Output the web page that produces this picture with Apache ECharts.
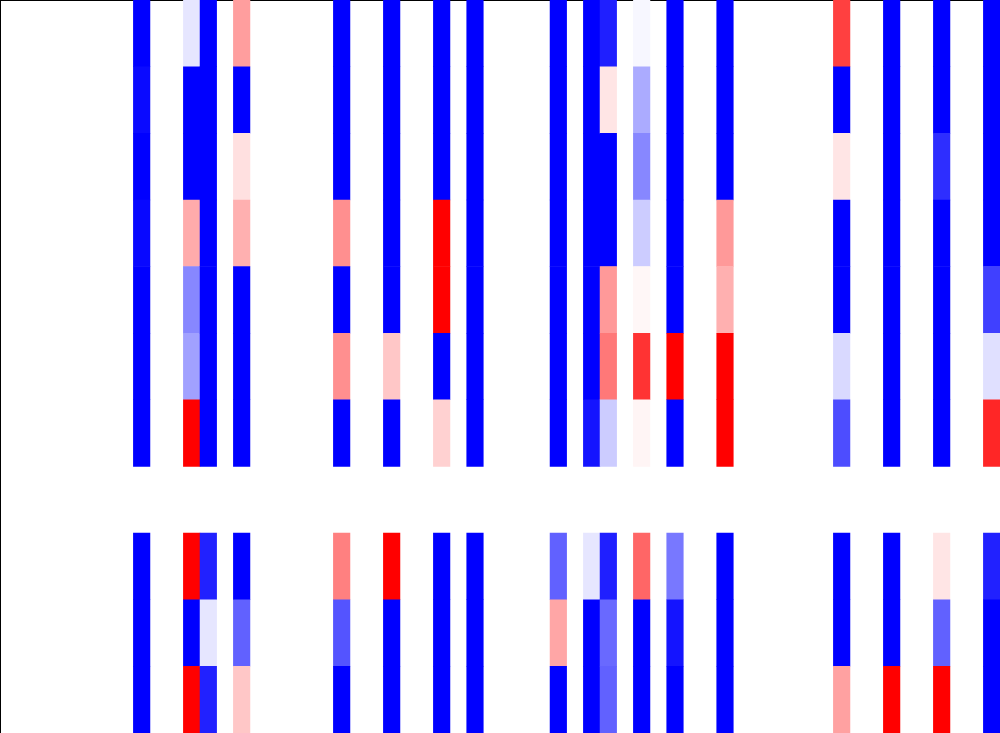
<!DOCTYPE html>
<html>
<head>
<meta charset="utf-8">
<script src="https://cdn.jsdelivr.net/npm/echarts@6/dist/echarts.min.js"></script>
<style>
html,body{margin:0;padding:0;background:#ffffff;}
#chart{width:1000px;height:733px;}
</style>
</head>
<body>
<div id="chart"></div>
<script>
// 60 columns x 11 rows; null = no value (blank)
const nCols = 60;
const nRows = 11;
// values per populated column, rows top -> bottom (row 7 is empty)
const c08 = [-1, -0.96, -1, -0.97, -1, -1, -1, null, -1, -1, -1];
const c11 = [-0.1, -1, -1, 0.33, -0.47, -0.37, 1, null, 1, -1, 1];
const c12 = [-1, -1, -1, -1, -1, -1, -1, null, -0.87, -0.1, -0.87];
const c14 = [0.38, -1, 0.12, 0.31, -1, -1, -1, null, -1, -0.62, 0.22];
const c20 = [-1, -1, -1, 0.44, -1, 0.44, -1, null, 0.5, -0.67, -1];
const c23 = [-1, -1, -1, -1, -1, 0.22, -1, null, 1, -1, -1];
const c26 = [-1, -1, -1, 1, 1, -1, 0.18, null, -1, -1, -1];
const c28 = [-1, -1, -1, -1, -1, -1, -1, null, -1, -1, -1];
const c33 = [-1, -1, -1, -1, -1, -1, -1, null, -0.62, 0.35, -1];
const c35 = [-1, -1, -1, -1, -1, -1, -0.92, null, -0.1, -1, -1];
const c36 = [-0.88, 0.1, -1, -1, 0.4, 0.53, -0.2, null, -0.88, -0.59, -0.62];
const c38 = [-0.03, -0.33, -0.47, -0.2, 0.03, 0.8, 0.04, null, 0.6, -1, -1];
const c40 = [-1, -1, -1, -1, -1, 1, -1, null, -0.53, -0.92, -1];
const c43 = [-1, -1, -1, 0.4, 0.31, 1, 1, null, -1, -1, -1];
const c50 = [0.75, -1, 0.1, -1, -1, -0.15, -0.7, null, -1, -1, 0.37];
const c53 = [-1, -1, -1, -1, -1, -1, -1, null, -1, -1, 1];
const c56 = [-1, -1, -0.82, -1, -1, -1, -1, null, 0.1, -0.62, 1];
const c59 = [-1, -1, -1, -1, -0.75, -0.12, 0.85, null, -0.87, -1, -1];

const columnIndex = [8, 11, 12, 14, 20, 23, 26, 28, 33, 35, 36, 38, 40, 43, 50, 53, 56, 59];
const columnValues = [c08, c11, c12, c14, c20, c23, c26, c28, c33, c35, c36, c38, c40, c43, c50, c53, c56, c59];

const xCats = Array.from({length: nCols}, (_, i) => String(i));
const yCats = Array.from({length: nRows}, (_, i) => String(i));

const data = [];
columnIndex.forEach((ci, k) => {
  columnValues[k].forEach((v, r) => {
    if (v !== null) data.push([ci, r, v]);
  });
});

const chart = echarts.init(document.getElementById('chart'), null, {renderer: 'canvas'});
chart.setOption({
  backgroundColor: '#ffffff',
  animation: false,
  grid: {left: 0, right: 0, top: 0, bottom: 0, containLabel: false},
  xAxis: {
    type: 'category', data: xCats, position: 'top',
    axisLine: {show: true, lineStyle: {color: '#000000', width: 2}},
    axisTick: {show: false}, axisLabel: {show: false}, splitLine: {show: false}
  },
  yAxis: {
    type: 'category', data: yCats, inverse: true, position: 'left',
    axisLine: {show: true, lineStyle: {color: '#000000', width: 2}},
    axisTick: {show: false}, axisLabel: {show: false}, splitLine: {show: false}
  },
  visualMap: {
    show: false, type: 'continuous', min: -1, max: 1, dimension: 2,
    inRange: {color: ['#0000ff', '#ffffff', '#ff0000']}
  },
  series: [{
    type: 'heatmap',
    data: data,
    itemStyle: {borderWidth: 0},
    emphasis: {disabled: true},
    z: 1
  }]
});
</script>
</body>
</html>
